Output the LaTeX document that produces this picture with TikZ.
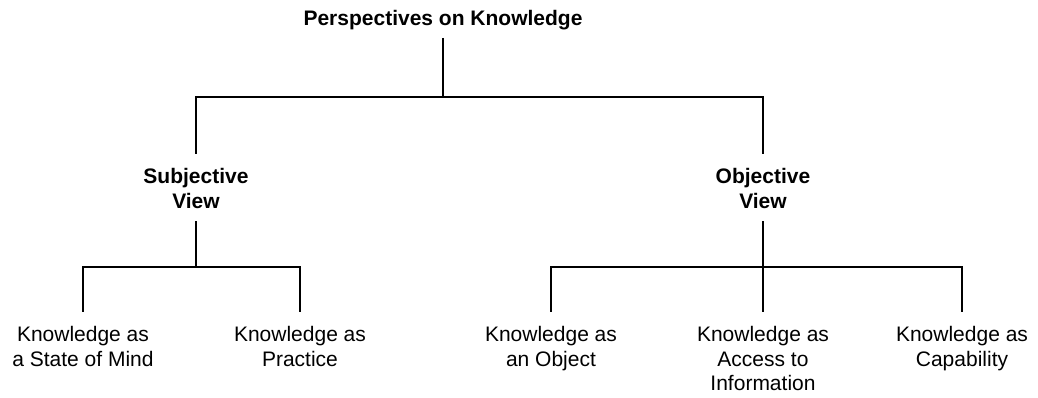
\documentclass[tikz,border=0pt]{standalone}
\usepackage{fontspec}
\setmainfont{Liberation Sans}
\begin{document}
\begin{tikzpicture}[x=1pt,y=-1pt,line width=1.8pt,
  every node/.style={align=center,inner sep=0pt,outer sep=0pt},
  head/.style={font=\bfseries\fontsize{21}{25}\selectfont,anchor=north},
  leaf/.style={font=\fontsize{21}{24.5}\selectfont,anchor=north}]
\useasboundingbox (0,0) rectangle (1038,398);
\node[head] (title) at (443,10.7) {Perspectives on Knowledge};
\node[head] (subj) at (196,168.7) {Subjective\\View};
\node[head] (obj) at (763,168.7) {Objective\\View};
\node[leaf] (l1) at (83,326.7) {Knowledge as\\a State of Mind};
\node[leaf] (l2) at (300,326.7) {Knowledge as\\Practice};
\node[leaf] (l3) at (551,326.7) {Knowledge as\\an Object};
\node[leaf] (l4) at (763,326.7) {Knowledge as\\Access to\\Information};
\node[leaf] (l5) at (962,326.7) {Knowledge as\\Capability};
\coordinate (tb) at (443,97);
\coordinate (sb) at (196,267);
\coordinate (ob) at (763,267);
\draw ([yshift=-7.5pt]title.south) -- (tb);
\draw ([yshift=15pt]subj.north) -- (subj |- tb) -- (obj |- tb) -- ([yshift=15pt]obj.north);
\draw ([yshift=-12pt]subj.south) -- (sb);
\draw ([yshift=-12pt]obj.south) -- (ob);
\draw ([yshift=15pt]l1.north) -- (l1 |- sb) -- (l2 |- sb) -- ([yshift=15pt]l2.north);
\draw ([yshift=15pt]l3.north) -- (l3 |- ob) -- (l5 |- ob) -- ([yshift=15pt]l5.north);
\draw ([yshift=15pt]l4.north) -- (l4 |- ob);
\end{tikzpicture}
\end{document}
